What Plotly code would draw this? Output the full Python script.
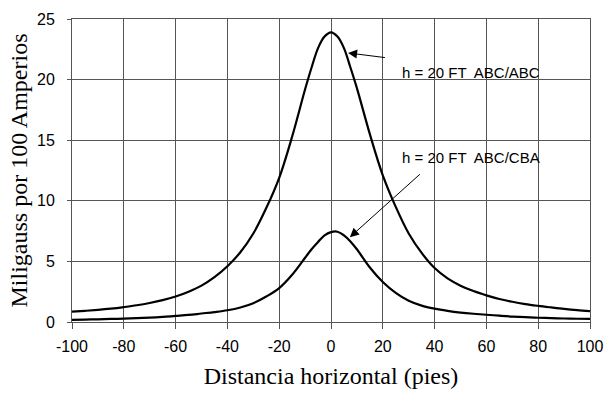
import plotly.graph_objects as go

# Distancia horizontal (pies)
x_vals = [-100, -95, -90, -85, -80, -75, -70, -65, -60, -55, -50, -45, -40, -35, -30, -25, -20,
          -15, -10, -7.5, -5, -2.5, 0, 2.5, 5, 7.5, 10, 15, 20, 25, 30, 35, 40, 45, 50, 55, 60,
          65, 70, 75, 80, 85, 90, 95, 100]
# h = 20 FT ABC/ABC  (miligauss por 100 A)
y_abc = [0.85, 0.92, 1.0, 1.1, 1.23, 1.38, 1.57, 1.8, 2.1, 2.5, 3.0, 3.7, 4.6, 5.75, 7.3, 9.4, 11.9,
         15.3, 19.2, 21.0, 22.6, 23.55, 23.9, 23.55, 22.6, 21.0, 19.3, 15.5, 12.1, 9.5, 7.3, 5.7,
         4.45, 3.6, 3.0, 2.55, 2.2, 1.9, 1.67, 1.48, 1.33, 1.2, 1.08, 0.98, 0.9]
# h = 20 FT ABC/CBA
y_cba = [0.18, 0.2, 0.22, 0.25, 0.28, 0.32, 0.36, 0.42, 0.5, 0.58, 0.7, 0.82, 0.97, 1.2, 1.55, 2.1,
         2.8, 3.9, 5.3, 6.0, 6.6, 7.15, 7.42, 7.45, 7.15, 6.65, 6.0, 4.5, 3.3, 2.4, 1.75, 1.35,
         1.1, 0.92, 0.78, 0.68, 0.6, 0.52, 0.45, 0.4, 0.35, 0.32, 0.29, 0.27, 0.25]

x_ticks = [-100, -80, -60, -40, -20, 0, 20, 40, 60, 80, 100]
x_ticktext = ["-100", "-80", "-60", "-40", "-20", "0", "20", "40", "60", "80", "100"]
y_ticks = [0, 5, 10, 15, 20, 25]

label_abc = "h = 20 FT  ABC/ABC"
label_cba = "h = 20 FT  ABC/CBA"

fig = go.Figure()
for yv in (y_abc, y_cba):
    fig.add_trace(go.Scatter(x=x_vals, y=yv, mode="lines",
                             line=dict(color="black", width=2.2, shape="spline", smoothing=1.0),
                             hoverinfo="skip"))

tick_font = dict(family="Liberation Sans Narrow, Arial Narrow, Liberation Sans, Arial", size=16, color="black")
title_font = dict(family="Liberation Serif, Times New Roman, serif", size=24, color="black")

fig.update_xaxes(range=[-100, 100], tickvals=x_ticks, ticktext=x_ticktext, showgrid=True,
                 gridcolor="#555", gridwidth=1, showline=True, linecolor="#555", linewidth=1,
                 mirror=True, zeroline=False, ticks="outside", ticklen=6, tickcolor="#555",
                 tickfont=tick_font, ticklabelstandoff=4, automargin=False,
                 title=dict(text="Distancia horizontal (pies)", font=title_font, standoff=12))
fig.update_yaxes(range=[0, 25], tickvals=y_ticks, showgrid=True, gridcolor="#555", gridwidth=1,
                 showline=True, linecolor="#555", linewidth=1, mirror=True, zeroline=False,
                 ticks="outside", ticklen=4, tickcolor="#555", tickfont=tick_font,
                 ticklabelstandoff=9, automargin=False,
                 title=dict(text="Miligauss por 100 Amperios", font=title_font, standoff=2))

ann_font = dict(family="Liberation Sans Narrow, Arial Narrow, Liberation Sans, Arial", size=15, color="black")
fig.add_annotation(x=26.8, y=20.6, text=label_abc, showarrow=False, xanchor="left", yanchor="middle", font=ann_font)
fig.add_annotation(x=26.8, y=13.6, text=label_cba, showarrow=False, xanchor="left", yanchor="middle", font=ann_font)
fig.add_annotation(x=6.6, y=22.2, ax=21.4, ay=21.8, axref="x", ayref="y", xref="x", yref="y", text="",
                   showarrow=True, arrowhead=2, arrowsize=1.8, arrowwidth=1, arrowcolor="black")
fig.add_annotation(x=7.3, y=7.0, ax=34.9, ay=12.3, axref="x", ayref="y", xref="x", yref="y", text="",
                   showarrow=True, arrowhead=2, arrowsize=1.8, arrowwidth=1, arrowcolor="black")

fig.update_layout(width=604, height=393, margin=dict(l=72, r=14, t=19, b=71),
                  plot_bgcolor="white", paper_bgcolor="white", showlegend=False)

fig.write_html("out.html")
